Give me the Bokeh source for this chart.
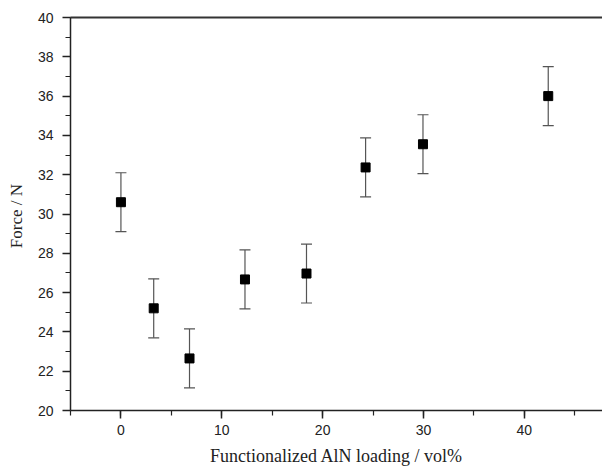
from bokeh.plotting import figure
from bokeh.models import (ColumnDataSource, Whisker, TeeHead, SingleIntervalTicker,
                          Range1d, LinearAxis, FixedTicker)
from bokeh.embed import file_html
from bokeh.resources import INLINE

loading = [0.0, 3.25, 6.8, 12.3, 18.4, 24.26, 29.95, 42.37]
force = [30.6, 25.2, 22.65, 26.67, 26.97, 32.37, 33.55, 36.0]
error = [1.5, 1.5, 1.5, 1.5, 1.5, 1.5, 1.5, 1.5]

upper = [f + e for f, e in zip(force, error)]
lower = [f - e for f, e in zip(force, error)]
src = ColumnDataSource(dict(x=loading, y=force, upper=upper, lower=lower))

p = figure(width=602, height=469, output_backend="svg", toolbar_location=None,
           x_range=Range1d(-5, 47.75), y_range=Range1d(20, 40),
           min_border_left=70, min_border_right=0, min_border_top=17, min_border_bottom=59)
p.outline_line_color = None
p.grid.visible = False
p.background_fill_color = "white"
p.border_fill_color = "white"

bx = p.below[0]
ly = p.left[0]

w = Whisker(source=src, base="x", upper="upper", lower="lower",
            line_color="#555555", line_width=1.2,
            upper_head=TeeHead(size=11, line_color="#555555", line_width=1.2),
            lower_head=TeeHead(size=11, line_color="#555555", line_width=1.2))
p.add_layout(w)
p.scatter("x", "y", source=src, marker="square", size=9, color="black")

top = LinearAxis(ticker=FixedTicker(ticks=[]), axis_line_width=2, axis_line_color="#333333",
                 major_tick_line_color=None, minor_tick_line_color=None,
                 major_label_text_font_size="0px", major_label_standoff=0)
p.add_layout(top, "above")

bx.ticker = SingleIntervalTicker(interval=10, num_minor_ticks=2)
ly.ticker = SingleIntervalTicker(interval=2, num_minor_ticks=2)

for ax in (bx, ly):
    ax.axis_line_width = 1.5
    ax.axis_line_color = "#222222"
    ax.major_tick_line_color = "#222222"
    ax.minor_tick_line_color = "#222222"
    ax.major_tick_line_width = 1.5
    ax.minor_tick_line_width = 1.2
    ax.major_tick_in = 0
    ax.major_tick_out = 8
    ax.minor_tick_in = 0
    ax.minor_tick_out = 5
    ax.major_label_text_font = "Liberation Sans"
    ax.major_label_text_font_size = "14px"
    ax.major_label_text_color = "#222222"
    ax.axis_label_text_font = "Liberation Serif"
    ax.axis_label_text_font_style = "normal"
    ax.axis_label_text_color = "#222222"

bx.axis_label = "Functionalized AlN loading / vol%"
ly.axis_label = "Force  / N"
bx.axis_label_text_font_size = "18px"
ly.axis_label_text_font_size = "17px"
bx.major_label_standoff = 6
ly.major_label_standoff = 9
bx.axis_label_standoff = 8
ly.axis_label_standoff = 9

open("out.html", "w").write(file_html(p, INLINE))
